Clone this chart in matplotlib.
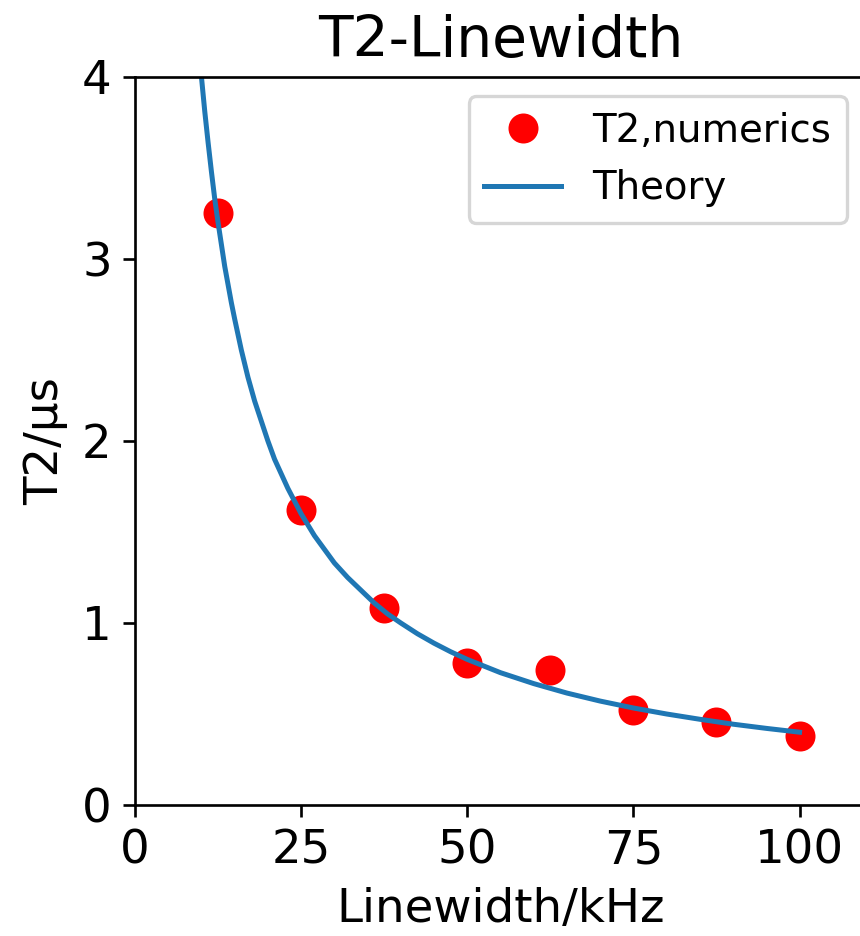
import matplotlib
matplotlib.use("Agg")
import matplotlib.pyplot as plt

# Numerical T2 points
linewidth_khz = [12.5, 25, 37.5, 50, 62.5, 75, 87.5, 100]
t2_numerics = [3.25, 1.62, 1.08, 0.78, 0.74, 0.52, 0.455, 0.38]

# Theory curve
theory_x = [10, 10.5, 11, 11.5, 12, 12.5, 13, 13.5, 14, 14.5, 15, 16, 17, 18, 19, 20,
            21, 22, 23, 24, 25, 26, 27, 28, 29, 30, 32, 34, 36, 38, 40, 42.5, 45, 47.5,
            50, 55, 60, 65, 70, 75, 80, 85, 90, 95, 100]
theory_y = [4.0, 3.81, 3.64, 3.48, 3.33, 3.2, 3.08, 2.96, 2.86, 2.76, 2.67, 2.5, 2.35,
            2.22, 2.11, 2.0, 1.90, 1.82, 1.74, 1.67, 1.6, 1.54, 1.48, 1.43, 1.38, 1.33,
            1.25, 1.18, 1.11, 1.05, 1.0, 0.941, 0.889, 0.842, 0.8, 0.727, 0.667, 0.615,
            0.571, 0.533, 0.5, 0.471, 0.444, 0.421, 0.4]

xticks = [0, 25, 50, 75, 100]
yticks = [0, 1, 2, 3, 4]

dpi = 240
fig = plt.figure(figsize=(860 / dpi, 936 / dpi), dpi=dpi)
ax = fig.add_axes([135 / 860, (936 - 805) / 936, (866 - 135) / 860, (805 - 77) / 936])

ax.plot(linewidth_khz, t2_numerics, 'o', color='red', markersize=8, label='T2,numerics')
ax.plot(theory_x, theory_y, '-', color='#1f77b4', linewidth=1.5, label='Theory')

ax.set_xlim(0, 110)
ax.set_ylim(0, 4)
ax.set_xticks(xticks)
ax.set_yticks(yticks)
ax.tick_params(labelsize=14)
ax.set_xlabel('Linewidth/kHz', fontsize=14)
ax.set_ylabel('T2/µs', fontsize=14)
ax.set_title('T2-Linewidth', fontsize=17)
ax.legend(loc='upper right', fontsize=11.6, numpoints=1)

fig.savefig('out.png', dpi=dpi)
